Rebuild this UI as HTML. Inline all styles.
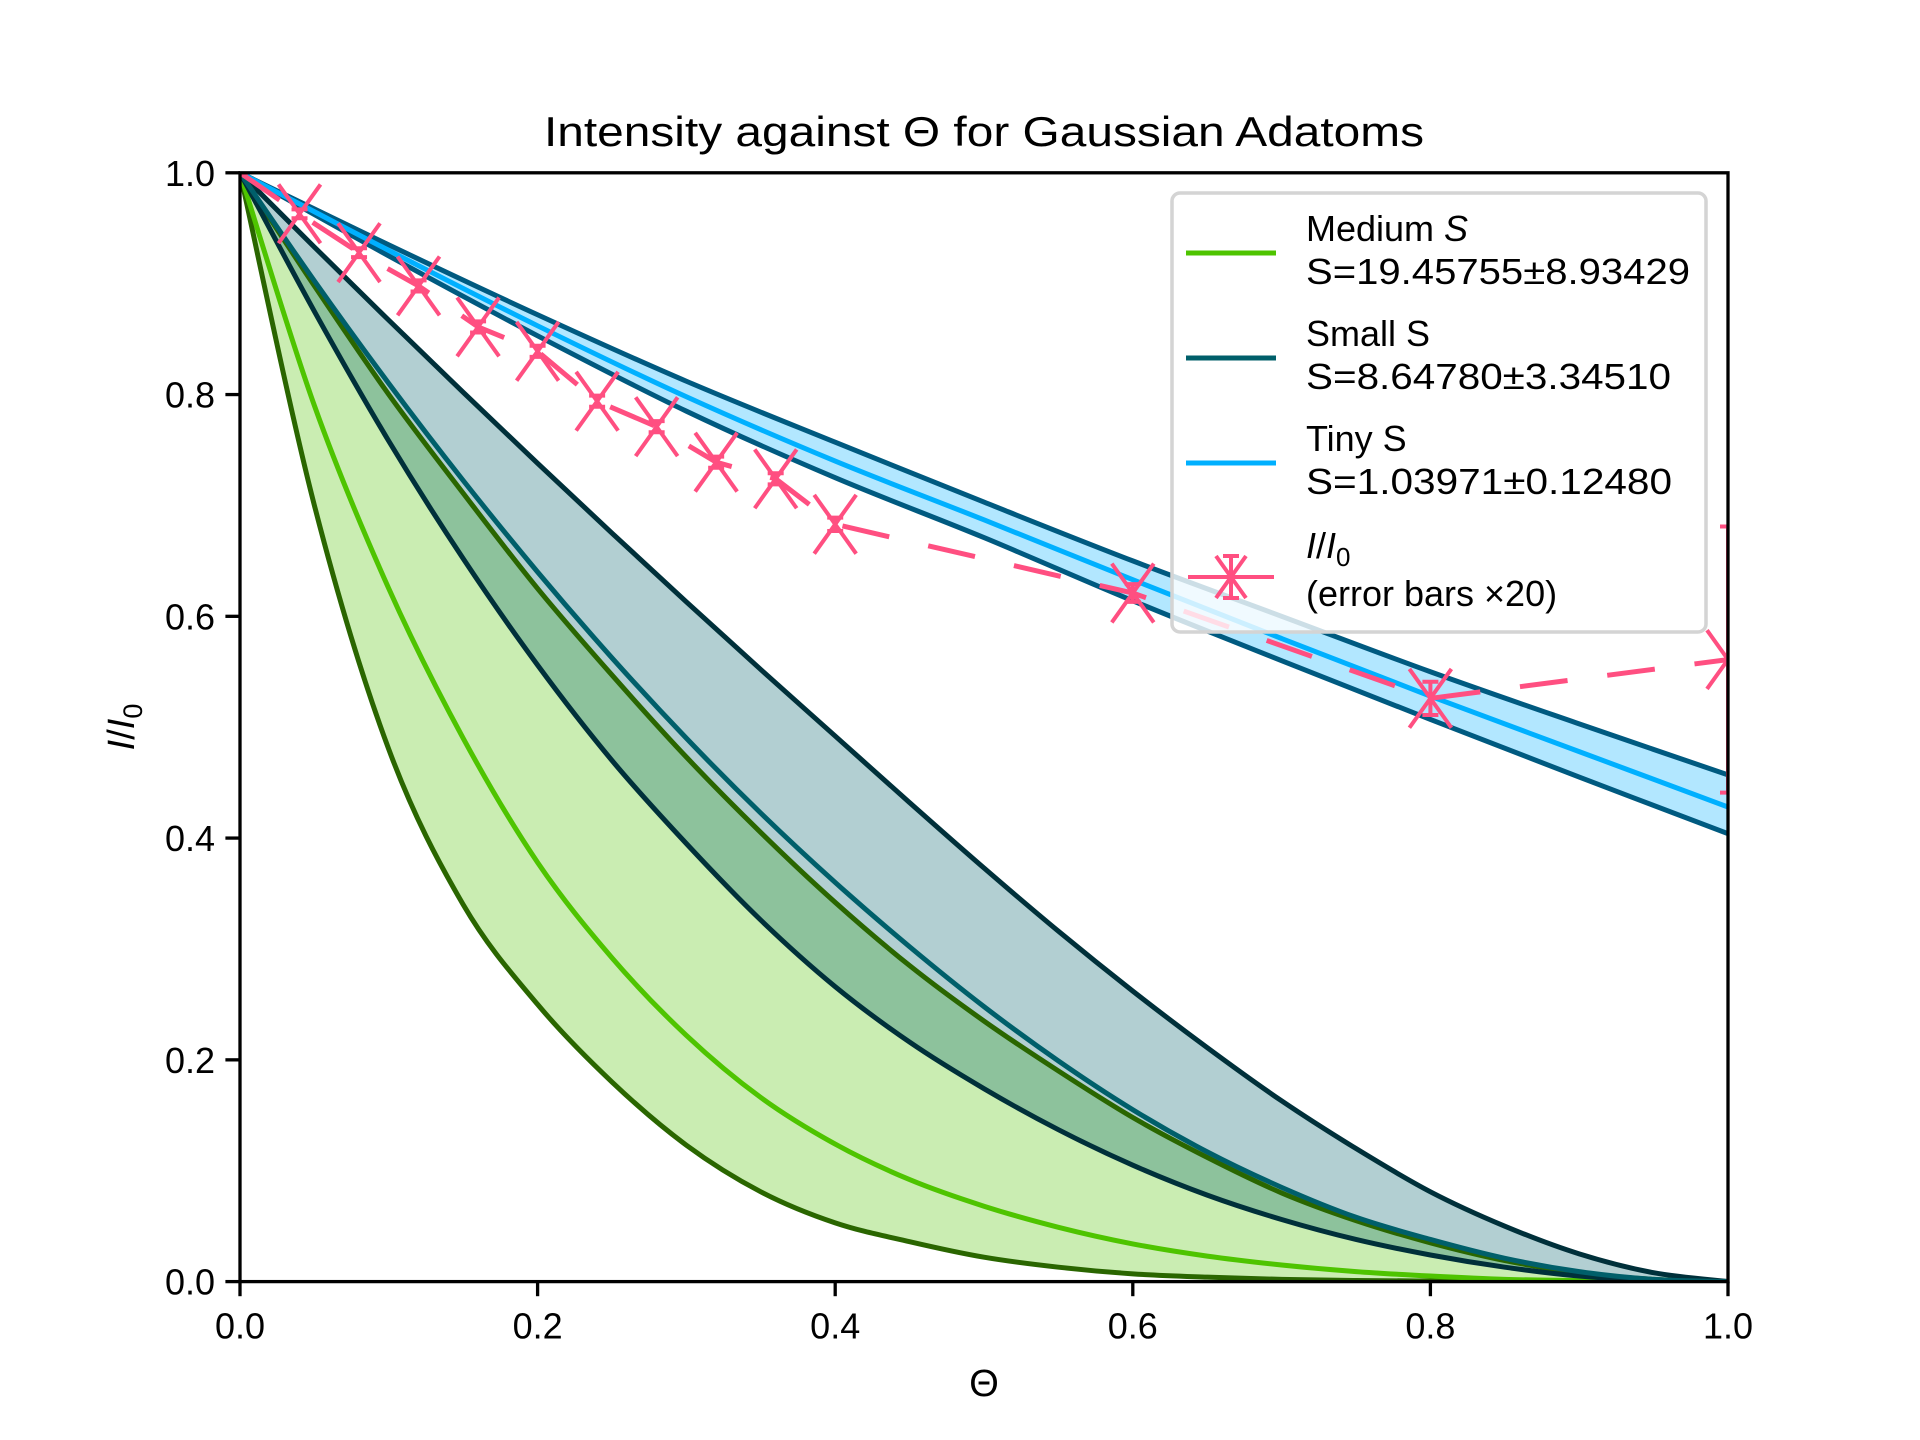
<!DOCTYPE html>
<html><head><meta charset="utf-8">
<style>
html,body{margin:0;padding:0;background:#fff;}
svg{display:block;}
text{font-family:"Liberation Sans","DejaVu Sans",sans-serif;fill:#000;}
</style></head>
<body>
<svg id="chart" width="1920" height="1440" viewBox="0 0 1920 1440" xmlns="http://www.w3.org/2000/svg">
<defs><clipPath id="axclip"><rect x="240" y="172.8" width="1488" height="1108.8"/></clipPath></defs>
<text x="984" y="146" font-size="42" text-anchor="middle" textLength="880" lengthAdjust="spacingAndGlyphs">Intensity against Θ for Gaussian Adatoms</text>
<g id="plot" clip-path="url(#axclip)"></g>
<g id="axes"></g>
<text x="984" y="1396" font-size="38" text-anchor="middle">Θ</text>
<text transform="translate(134,727) rotate(-90)" font-size="38" text-anchor="middle"><tspan font-style="italic">I</tspan>/<tspan font-style="italic">I</tspan><tspan font-size="27" dy="8">0</tspan></text>
<g id="legend">
<rect x="1172" y="193" width="534" height="439" rx="8" fill="#fff" fill-opacity="0.8" stroke="#d4d4d4" stroke-width="3.5"/>
<g>
<line x1="1186" y1="253" x2="1276" y2="253" stroke="#4ec400" stroke-width="5"/>
<text x="1306" y="241" font-size="36">Medium <tspan font-style="italic">S</tspan></text>
<text x="1306" y="284" font-size="36" textLength="384" lengthAdjust="spacingAndGlyphs">S=19.45755±8.93429</text>
</g>
<g>
<line x1="1186" y1="358" x2="1276" y2="358" stroke="#005f6a" stroke-width="5"/>
<text x="1306" y="346" font-size="36">Small S</text>
<text x="1306" y="389" font-size="36" textLength="365" lengthAdjust="spacingAndGlyphs">S=8.64780±3.34510</text>
</g>
<g>
<line x1="1186" y1="463" x2="1276" y2="463" stroke="#00b0ff" stroke-width="5"/>
<text x="1306" y="451" font-size="36">Tiny S</text>
<text x="1306" y="494" font-size="36" textLength="366" lengthAdjust="spacingAndGlyphs">S=1.03971±0.12480</text>
</g>
<g stroke="#ff4f81" stroke-width="4">
<line x1="1188" y1="577" x2="1274" y2="577"/>
<line x1="1216" y1="556" x2="1246" y2="598"/>
<line x1="1216" y1="598" x2="1246" y2="556"/>
<line x1="1231" y1="556" x2="1231" y2="598"/>
<line x1="1223" y1="556" x2="1239" y2="556"/>
<line x1="1223" y1="598" x2="1239" y2="598"/>
</g>
<text x="1306" y="558" font-size="36"><tspan font-style="italic">I</tspan>/<tspan font-style="italic">I</tspan><tspan font-size="26" dy="8">0</tspan></text>
<text x="1306" y="606" font-size="36">(error bars ×20)</text>
</g>
</svg>
<script>
// ---- data ----
const thetaFine = [0,0.05,0.1,0.15,0.2,0.25,0.3,0.35,0.4,0.45,0.5,0.55,0.6,0.65,0.7,0.75,0.8,0.85,0.9,0.95,1];
const mediumLow = [1,0.7,0.48,0.34,0.25,0.18,0.123,0.081,0.053,0.036,0.022,0.013,0.007,0.004,0.002,0.001,0.0005,0.0002,0,0,0];
const mediumMid = [1,0.79,0.625,0.49,0.378,0.292,0.222,0.166,0.124,0.092,0.068,0.049,0.034,0.023,0.015,0.009,0.005,0.002,0.001,0,0];
const mediumHigh = [1,0.898,0.80,0.711,0.625,0.547,0.473,0.405,0.342,0.285,0.235,0.19,0.148,0.112,0.08,0.055,0.035,0.019,0.008,0.002,0];
const smallLow = [1,0.875,0.758,0.652,0.556,0.47,0.395,0.326,0.266,0.216,0.174,0.137,0.105,0.078,0.056,0.038,0.024,0.013,0.005,0.001,0];
const smallMid = [1,0.9025,0.81,0.7225,0.64,0.5625,0.49,0.4225,0.36,0.302,0.248,0.199,0.155,0.117,0.085,0.058,0.038,0.021,0.009,0.002,0];
const smallHigh = [1,0.933,0.867,0.802,0.738,0.675,0.613,0.552,0.492,0.432,0.373,0.316,0.262,0.211,0.163,0.12,0.081,0.05,0.025,0.008,0];
const thetaCoarse = [0,0.1,0.2,0.3,0.4,0.5,0.6,0.7,0.8,0.9,1];
const tinyHigh = [1,0.935,0.872,0.812,0.757,0.703,0.65,0.6,0.55,0.503,0.457];
const tinyMid = [1,0.93,0.862,0.798,0.74,0.687,0.633,0.58,0.528,0.478,0.428];
const tinyLow = [1,0.925,0.853,0.785,0.725,0.671,0.614,0.56,0.507,0.455,0.404];
const dataTheta = [0,0.04,0.08,0.12,0.16,0.2,0.24,0.28,0.32,0.36,0.4,0.6,0.8,1.0];
const dataI = [1.0,0.963,0.928,0.898,0.861,0.839,0.794,0.771,0.739,0.724,0.683,0.621,0.526,0.561];
const dataErr = [0,0.004,0.004,0.005,0.005,0.005,0.005,0.005,0.005,0.005,0.006,0.008,0.015,0.12];
const xTicks = [0,0.2,0.4,0.6,0.8,1.0];
const xTickLabels = ["0.0","0.2","0.4","0.6","0.8","1.0"];
const yTicks = [0,0.2,0.4,0.6,0.8,1.0];
const yTickLabels = ["0.0","0.2","0.4","0.6","0.8","1.0"];

// ---- axes ----
const L=240,R=1728,T=172.8,B=1281.6;
function sx(v){return L+(R-L)*v;}
function sy(v){return B-(B-T)*v;}
const NS="http://www.w3.org/2000/svg";
function mk(tag,attrs,parent){const e=document.createElementNS(NS,tag);for(const k in attrs)e.setAttribute(k,attrs[k]);parent.appendChild(e);return e;}
function pts(xs,ys){return xs.map((x,i)=>[sx(x),sy(ys[i])]);}
function smooth(p,move){
  let d=move?`M${p[0][0]},${p[0][1]}`:`L${p[0][0]},${p[0][1]}`;
  for(let i=0;i<p.length-1;i++){
    const p0=p[Math.max(i-1,0)],p1=p[i],p2=p[i+1],p3=p[Math.min(i+2,p.length-1)];
    const c1=[p1[0]+(p2[0]-p0[0])/6,p1[1]+(p2[1]-p0[1])/6];
    const c2=[p2[0]-(p3[0]-p1[0])/6,p2[1]-(p3[1]-p1[1])/6];
    d+=`C${c1[0]},${c1[1]} ${c2[0]},${c2[1]} ${p2[0]},${p2[1]}`;
  }
  return d;
}
const plot=document.getElementById('plot');
function band(xs,lo,hi,color,name){
  const up=pts(xs,hi), dn=pts(xs,lo).reverse();
  const el=mk('path',{d:smooth(up,true)+smooth(dn,false)+'Z',fill:color,'fill-opacity':0.3,stroke:'none'},plot);
  
  
}
function line(xs,ys,color,w,name){
  const el=mk('path',{d:smooth(pts(xs,ys),true),fill:'none',stroke:color,'stroke-width':w,'stroke-linejoin':'round'},plot);
  
  
}
band(thetaFine,mediumLow,mediumHigh,'#4ec400','medium-band');
band(thetaFine,smallLow,smallHigh,'#005f6a','small-band');
band(thetaCoarse,tinyLow,tinyHigh,'#00b0ff','tiny-band');
line(thetaFine,mediumLow,'#2a6600',5,'medium-lower-line');
line(thetaFine,mediumHigh,'#2a6600',5,'medium-upper-line');
line(thetaFine,mediumMid,'#4ec400',5,'medium-line');
line(thetaFine,smallLow,'#00303a',5,'small-lower-line');
line(thetaFine,smallHigh,'#00303a',5,'small-upper-line');
line(thetaFine,smallMid,'#005f6a',5,'small-line');
line(thetaCoarse,tinyLow,'#005a80',5,'tiny-lower-line');
line(thetaCoarse,tinyHigh,'#005a80',5,'tiny-upper-line');
line(thetaCoarse,tinyMid,'#00b0ff',5,'tiny-line');

// data series
const pk='#ff4f81';
const dl=mk('polyline',{points:dataTheta.map((t,i)=>sx(t)+','+sy(dataI[i])).join(' '),fill:'none',stroke:pk,'stroke-width':5,'stroke-dasharray':'48 40'},plot);


dataTheta.forEach((t,i)=>{
  const x=sx(t),y=sy(dataI[i]),e=(B-T)*dataErr[i],m=21;
  const g=mk('g',{stroke:pk,'stroke-width':4},plot);
  
  
  mk('line',{x1:x,y1:y-e,x2:x,y2:y+e},g);
  mk('line',{x1:x-8,y1:y-e,x2:x+8,y2:y-e},g);
  mk('line',{x1:x-8,y1:y+e,x2:x+8,y2:y+e},g);
  if(i>0){
    mk('line',{x1:x-m,y1:y-m*1.4,x2:x+m,y2:y+m*1.4},g);
    mk('line',{x1:x-m,y1:y+m*1.4,x2:x+m,y2:y-m*1.4},g);
  }
});

// axes frame + ticks
const ax=document.getElementById('axes');
const fr=mk('rect',{x:L,y:T,width:R-L,height:B-T,fill:'none',stroke:'#000','stroke-width':3.3},ax);


xTicks.forEach((v,i)=>{
  const x=sx(v);
  const t=mk('line',{x1:x,y1:B,x2:x,y2:B+14.6,stroke:'#000','stroke-width':3.3},ax);
  
  
  const lb=mk('text',{x:x,y:B+57,'font-size':36,'text-anchor':'middle'},ax);
  lb.textContent=xTickLabels[i];
  
  
});
yTicks.forEach((v,i)=>{
  const y=sy(v);
  const t=mk('line',{x1:L-14.6,y1:y,x2:L,y2:y,stroke:'#000','stroke-width':3.3},ax);
  
  
  const lb=mk('text',{x:L-25,y:y+13,'font-size':36,'text-anchor':'end'},ax);
  lb.textContent=yTickLabels[i];
  
  
});
</script>
</body></html>
